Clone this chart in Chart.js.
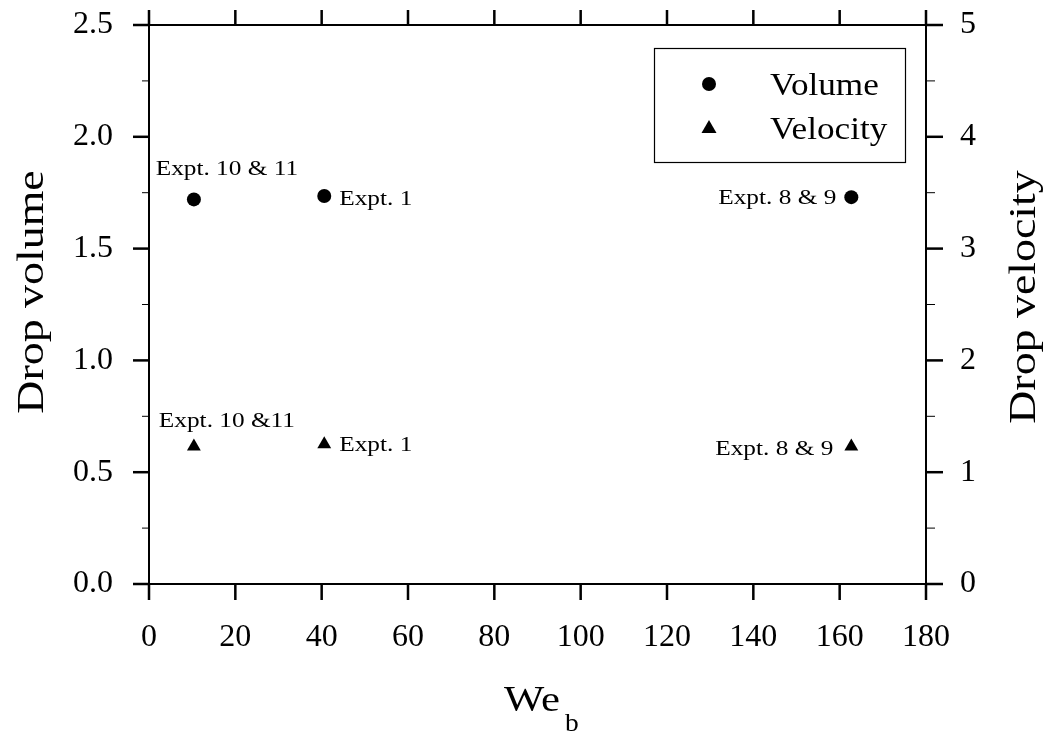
<!DOCTYPE html>
<html><head><meta charset="utf-8">
<script src="https://cdn.jsdelivr.net/npm/chart.js@4/dist/chart.umd.min.js"></script>
<style>html,body{margin:0;padding:0;background:#fff}#wrap{width:1051px;height:735px;position:relative}
.pre{font-family:"Liberation Serif";position:absolute;left:-9999px;top:0}</style>
</head><body><span class="pre">Expt. 0123456789 Drop volume We</span><div id="wrap"><canvas id="c"></canvas></div>
<script>
// ---- data ----
const weB = [10.4, 40.6, 162.7];
const dropVolume = [1.72, 1.735, 1.73];
const dropVelocity = [1.23, 1.25, 1.23];
const volumeNotes = ["Expt. 10 & 11", "Expt. 1", "Expt. 8 & 9"];
const velocityNotes = ["Expt. 10 &11", "Expt. 1", "Expt. 8 & 9"];
const xTickLabels = ["0","20","40","60","80","100","120","140","160","180"];
const volumeTickLabels = ["0.0","0.5","1.0","1.5","2.0","2.5"];
const velocityTickLabels = ["0","1","2","3","4","5"];
const seriesNames = ["Volume", "Velocity"];

const FONT = '"Liberation Serif", "Times New Roman", Times, serif';

function txt(ctx, s, x, y, size, sx, align, baseline, rot) {
  ctx.save();
  ctx.translate(x, y);
  if (rot) ctx.rotate(rot);
  ctx.scale(sx, 1);
  ctx.font = size + 'px ' + FONT;
  ctx.fillStyle = '#000';
  ctx.textAlign = align;
  ctx.textBaseline = baseline;
  ctx.fillText(s, 0, 0);
  ctx.restore();
}

const decor = {
  id: 'decor',
  afterDraw(chart) {
    const ctx = chart.ctx, ca = chart.chartArea;
    const xs = chart.scales.x, ys = chart.scales.y, ys2 = chart.scales.y2;
    ctx.save();
    ctx.strokeStyle = '#000';
    ctx.lineWidth = 2;
    ctx.strokeRect(ca.left, ca.top, ca.right - ca.left, ca.bottom - ca.top);
    ctx.lineWidth = 2.5;
    xs.ticks.forEach(t => {
      const p = xs.getPixelForValue(t.value);
      ctx.beginPath();
      ctx.moveTo(p, ca.bottom); ctx.lineTo(p, ca.bottom + 16);
      ctx.moveTo(p, ca.top); ctx.lineTo(p, ca.top - 15);
      ctx.stroke();
    });
    ys.ticks.forEach((t, i) => {
      const p = ys.getPixelForValue(t.value);
      ctx.lineWidth = 2.5;
      ctx.beginPath(); ctx.moveTo(ca.left - 16, p); ctx.lineTo(ca.left, p); ctx.stroke();
      if (i < ys.ticks.length - 1) {
        const m = ys.getPixelForValue((t.value + ys.ticks[i + 1].value) / 2);
        ctx.lineWidth = 1;
        ctx.beginPath(); ctx.moveTo(ca.left - 7, m); ctx.lineTo(ca.left, m); ctx.stroke();
      }
    });
    ys2.ticks.forEach((t, i) => {
      const p = ys2.getPixelForValue(t.value);
      ctx.lineWidth = 2.5;
      ctx.beginPath(); ctx.moveTo(ca.right, p); ctx.lineTo(ca.right + 17, p); ctx.stroke();
      if (i < ys2.ticks.length - 1) {
        const m = ys2.getPixelForValue((t.value + ys2.ticks[i + 1].value) / 2);
        ctx.lineWidth = 1;
        ctx.beginPath(); ctx.moveTo(ca.right, m); ctx.lineTo(ca.right + 9, m); ctx.stroke();
      }
    });
    ctx.restore();

    const place = [
      {dx: 33, dy: -32, align: 'center'},
      {dx: 15, dy: 1, align: 'left'},
      {dx: -15, dy: -1, align: 'right'}
    ];
    const placeV = [
      {dx: 33, dy: -27, align: 'center'},
      {dx: 15, dy: -1, align: 'left'},
      {dx: -18, dy: 1, align: 'right'}
    ];
    weB.forEach((w, i) => {
      const px = xs.getPixelForValue(w);
      const py = ys.getPixelForValue(dropVolume[i]);
      txt(ctx, volumeNotes[i], px + place[i].dx, py + place[i].dy + 7.5, 22, 1.15, place[i].align, 'alphabetic');
      const qy = ys2.getPixelForValue(dropVelocity[i]);
      txt(ctx, velocityNotes[i], px + placeV[i].dx, qy + placeV[i].dy + 7.5, 22, 1.15, placeV[i].align, 'alphabetic');
    });

    ctx.save();
    ctx.strokeStyle = '#000'; ctx.lineWidth = 1.2;
    ctx.strokeRect(654.5, 48.5, 251, 114);
    ctx.fillStyle = '#000';
    ctx.beginPath(); ctx.arc(709, 84, 7, 0, Math.PI * 2); ctx.fill();
    ctx.beginPath(); ctx.moveTo(709, 120); ctx.lineTo(716.5, 133); ctx.lineTo(701.5, 133); ctx.closePath(); ctx.fill();
    ctx.restore();
    txt(ctx, seriesNames[0], 770, 95, 32, 1.1, 'left', 'alphabetic');
    txt(ctx, seriesNames[1], 770, 138.5, 32, 1.1, 'left', 'alphabetic');

    txt(ctx, 'Drop volume', 33, 292, 37, 1.24, 'center', 'middle', -Math.PI / 2);
    txt(ctx, 'Drop velocity', 1025, 297, 37, 1.24, 'center', 'middle', -Math.PI / 2);
    txt(ctx, 'We', 504, 711, 35, 1.22, 'left', 'alphabetic');
    txt(ctx, 'b', 565, 731, 25, 1.1, 'left', 'alphabetic');
  }
};

const tickFont = {family: FONT, size: 32};
const noPad = s => { s.paddingTop = 0; s.paddingBottom = 0; s.paddingLeft = 0; s.paddingRight = 0; };

function build() {
  new Chart(document.getElementById('c'), {
    type: 'scatter',
    data: {
      datasets: [
        {
          label: seriesNames[0],
          data: weB.map((x, i) => ({x: x, y: dropVolume[i]})),
          yAxisID: 'y',
          pointStyle: 'circle', pointRadius: 7, pointHoverRadius: 7,
          backgroundColor: '#000', borderColor: '#000', borderWidth: 0
        },
        {
          label: seriesNames[1],
          data: weB.map((x, i) => ({x: x, y: dropVelocity[i]})),
          yAxisID: 'y2',
          pointStyle: 'triangle', pointRadius: 8, pointHoverRadius: 8,
          backgroundColor: '#000', borderColor: '#000', borderWidth: 0
        }
      ]
    },
    options: {
      responsive: true,
      maintainAspectRatio: false,
      animation: false,
      events: [],
      layout: {padding: {top: 25, left: 0, right: 0, bottom: 0}},
      plugins: {legend: {display: false}, tooltip: {enabled: false}},
      scales: {
        x: {
          type: 'linear', position: 'bottom', min: 0, max: 180,
          grid: {display: false, drawTicks: false}, border: {display: false},
          ticks: {stepSize: 20, font: tickFont, color: '#000', padding: 34, maxRotation: 0,
            callback: (v) => xTickLabels[Math.round(v / 20)]},
          afterFit: s => { s.height = 151; noPad(s); }
        },
        y: {
          type: 'linear', position: 'left', min: 0, max: 2.5,
          grid: {display: false, drawTicks: false}, border: {display: false},
          ticks: {stepSize: 0.5, font: tickFont, color: '#000', padding: 36,
            callback: (v) => volumeTickLabels[Math.round(v / 0.5)]},
          afterFit: s => { s.width = 149; noPad(s); }
        },
        y2: {
          type: 'linear', position: 'right', min: 0, max: 5,
          grid: {display: false, drawTicks: false}, border: {display: false},
          ticks: {stepSize: 1, font: tickFont, color: '#000', padding: 34,
            callback: (v) => velocityTickLabels[Math.round(v)]},
          afterFit: s => { s.width = 125; noPad(s); }
        }
      }
    },
    plugins: [decor]
  });
}

if (document.fonts && document.fonts.load) {
  Promise.all([
    document.fonts.load('32px "Liberation Serif"'),
    document.fonts.load('22px "Liberation Serif"')
  ]).then(build, build);
} else {
  build();
}
</script>
</body></html>
